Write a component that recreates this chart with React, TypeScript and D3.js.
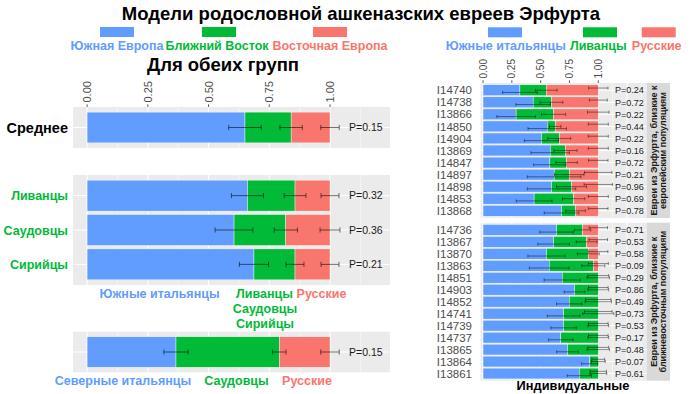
import React from 'react';
import * as d3 from 'd3';

const FONT = '"Liberation Sans", Arial, Helvetica, sans-serif';
const BLUE = '#619CFF';
const GREEN = '#00BA38';
const RED = '#F8766D';
const PANEL_BG = '#EBEBEB';

// left: group means (south share, middle-east share, error half-widths, P)
const avgRows = ['Среднее'];
const levantRows = ['Ливанцы', 'Саудовцы', 'Сирийцы'];
const northRows = [''];
const leftSouth = [0.65, 0.66, 0.605, 0.687, 0.366];
const leftMiddle = [0.19, 0.196, 0.213, 0.169, 0.425];
const leftErrSouth = [0.067, 0.066, 0.078, 0.06, 0.05];
const leftErrMiddle = [0.046, 0.045, 0.048, 0.037, 0.028];
const leftErrEast = [0.038, 0.037, 0.041, 0.037, 0.038];
const leftP = ['0.15', '0.32', '0.36', '0.21', '0.15'];

// right: individuals
const rightIds = [
  'I14740', 'I14738', 'I13866', 'I14850', 'I14904', 'I13869', 'I14847', 'I14897', 'I14898', 'I14853', 'I13868',
  'I14736', 'I13867', 'I13870', 'I13863', 'I14851', 'I14903', 'I14852', 'I14741', 'I14739', 'I14737', 'I13865', 'I13864', 'I13861',
];
const rightSouth = [
  0.32, 0.435, 0.287, 0.557, 0.507, 0.583, 0.58, 0.617, 0.594, 0.443, 0.681,
  0.638, 0.612, 0.551, 0.574, 0.687, 0.794, 0.748, 0.699, 0.699, 0.675, 0.733, 0.926, 0.835,
];
const rightMiddle = [
  0.228, 0.159, 0.325, 0.069, 0.154, 0.133, 0.145, 0.131, 0.174, 0.343, 0.122,
  0.226, 0.287, 0.362, 0.383, 0.313, 0.206, 0.252, 0.301, 0.301, 0.325, 0.267, 0.074, 0.165,
];
const rightErrSouth = [
  0.15, 0.15, 0.167, 0.167, 0.148, 0.167, 0.14, 0.233, 0.21, 0.155, 0.15,
  0.145, 0.137, 0.162, 0.172, 0.157, 0.09, 0.11, 0.142, 0.11, 0.106, 0.094, 0.07, 0.105,
];
const rightErrMiddle = [
  0.094, 0.098, 0.105, 0.05, 0.1, 0.1, 0.093, 0.128, 0.13, 0.097, 0.085,
  0.07, 0.09, 0.095, 0.1, 0.097, 0.09, 0.115, 0.135, 0.09, 0.09, 0.097, 0.06, 0.073,
];
const rightErrEast = [
  0.084, 0.078, 0.093, 0.087, 0.087, 0.087, 0.084, 0.119, 0.123, 0.087, 0.084,
  0.08, 0.08, 0.083, 0.087, 0.09, 0.085, 0.11, 0.12, 0.085, 0.085, 0.09, 0.055, 0.07,
];
const rightP = [
  '0.24', '0.72', '0.22', '0.44', '0.22', '0.16', '0.72', '0.21', '0.96', '0.69', '0.78',
  '0.71', '0.53', '0.58', '0.09', '0.29', '0.86', '0.49', '0.73', '0.53', '0.17', '0.48', '0.07', '0.61',
];
const facetSizes = [11, 13];
const facetLines = [
  ['Евреи из Эрфурта, близкие к', 'европейским популяциям'],
  ['Евреи из Эрфурта, близкие к', 'ближневосточным популяциям'],
];

const tickValues = [0, 0.25, 0.5, 0.75, 1];
const majorGrid = [0, 0.25, 0.5, 0.75, 1, 1.25];
const minorGrid = [0.125, 0.375, 0.625, 0.875, 1.125, 1.375];

type Row = { label: string; s: number; m: number; es: number; em: number; ee: number; p: string };

const leftRows = (labels: string[], offset: number): Row[] =>
  labels.map((label, i) => ({
    label,
    s: leftSouth[offset + i],
    m: leftMiddle[offset + i],
    es: leftErrSouth[offset + i],
    em: leftErrMiddle[offset + i],
    ee: leftErrEast[offset + i],
    p: leftP[offset + i],
  }));

const rightRows: Row[] = rightIds.map((label, i) => ({
  label,
  s: rightSouth[i],
  m: rightMiddle[i],
  es: rightErrSouth[i],
  em: rightErrMiddle[i],
  ee: rightErrEast[i],
  p: rightP[i],
}));

type PanelProps = {
  rows: Row[];
  x: d3.ScaleLinear<number, number>;
  top: number;
  bottom: number;
  cap: number;
  dodge: number[];
  errW: number;
};

function Panel({ rows, x, top, bottom, cap, dodge, errW }: PanelProps) {
  const n = rows.length;
  const y = d3.scaleLinear().domain([0.4, n + 0.6]).range([top, bottom]);
  const [x0, x1] = x.range();
  const [d0, d1] = x.domain();
  const inside = (v: number) => v >= d0 && v <= d1;
  return (
    <g>
      <rect x={x0} y={top} width={x1 - x0} height={bottom - top} fill={PANEL_BG} />
      {minorGrid.filter(inside).map(v => (
        <line key={'mi' + v} x1={x(v)} x2={x(v)} y1={top} y2={bottom} stroke="#fff" strokeWidth={0.5} />
      ))}
      {majorGrid.filter(inside).map(v => (
        <line key={'ma' + v} x1={x(v)} x2={x(v)} y1={top} y2={bottom} stroke="#fff" strokeWidth={1} />
      ))}
      {rows.map((r, i) => (
        <line key={'h' + i} x1={x0} x2={x1} y1={y(i + 1)} y2={y(i + 1)} stroke="#fff" strokeWidth={1} />
      ))}
      {rows.map((r, i) => {
        const yt = y(i + 1 - 0.45);
        const yb = y(i + 1 + 0.45);
        const segs = [
          [0, r.s, BLUE],
          [r.s, r.s + r.m, GREEN],
          [r.s + r.m, 1, RED],
        ] as [number, number, string][];
        return (
          <g key={'b' + i}>
            {segs.map(([a, b, c], j) =>
              b > a ? (
                <rect key={j} x={x(a)} y={yt} width={x(b) - x(a)} height={yb - yt} fill={c} stroke="#fff" strokeWidth={0.4} />
              ) : null
            )}
          </g>
        );
      })}
      {rows.map((r, i) => {
        const ends = [r.s, r.s + r.m, 1];
        const errs = [r.es, r.em, r.ee];
        return (
          <g key={'e' + i} stroke="rgba(0,0,0,0.55)" strokeWidth={errW}>
            {ends.map((c, j) => {
              const yc = y(i + 1) + dodge[j];
              const xa = x(c - errs[j]);
              const xb = x(c + errs[j]);
              return (
                <g key={j}>
                  <line x1={xa} x2={xb} y1={yc} y2={yc} />
                  <line x1={xa} x2={xa} y1={yc - cap} y2={yc + cap} />
                  <line x1={xb} x2={xb} y1={yc - cap} y2={yc + cap} />
                </g>
              );
            })}
          </g>
        );
      })}
    </g>
  );
}

function rowCenter(n: number, top: number, bottom: number, i: number) {
  return d3.scaleLinear().domain([0.4, n + 0.6]).range([top, bottom])(i + 1);
}

function TopTicks({ x, top, size }: { x: d3.ScaleLinear<number, number>; top: number; size: number }) {
  return (
    <g>
      {tickValues.map(v => (
        <g key={v}>
          <line x1={x(v)} x2={x(v)} y1={top} y2={top - 2.7} stroke="#333" strokeWidth={0.8} />
          <text
            transform={`translate(${x(v)},${top - 4.5}) rotate(-90)`}
            dy="0.36em"
            fontSize={size}
            fill="#4D4D4D"
          >
            {d3.format('.2f')(v)}
          </text>
        </g>
      ))}
    </g>
  );
}

export default function App() {
  const xL = d3.scaleLinear().domain([-0.058, 1.247]).range([73, 390]);
  const xR = d3.scaleLinear().domain([-0.022, 1.42]).range([480.5, 646.7]);

  const leftPanels = [
    { rows: leftRows(avgRows, 0), top: 107, bottom: 148 },
    { rows: leftRows(levantRows, 1), top: 175, bottom: 285 },
    { rows: leftRows(northRows, 4), top: 331.7, bottom: 372.3 },
  ];
  const facets = [
    { rows: rightRows.slice(0, facetSizes[0]), top: 83, bottom: 218 },
    { rows: rightRows.slice(facetSizes[0]), top: 222.7, bottom: 380.7 },
  ];

  return (
    <svg
      width={700}
      height={394}
      style={{ position: 'absolute', left: 0, top: 0, background: '#fff', display: 'block' }}
      fontFamily={FONT}
    >
      <defs>
        {facets.map((f, k) => (
          <clipPath id={'strip' + k} key={k}>
            <rect x={646.7} y={f.top} width={23.3} height={f.bottom - f.top} />
          </clipPath>
        ))}
      </defs>

      <text x={361} y={20} textAnchor="middle" fontSize={18.5} fontWeight="bold" fill="#000">
        Модели родословной ашкеназских евреев Эрфурта
      </text>

      {/* left legend */}
      <rect x={100} y={27} width={34} height={10} fill={BLUE} />
      <rect x={202} y={27} width={34} height={10} fill={GREEN} />
      <rect x={313} y={27} width={34} height={10} fill={RED} />
      <g fontSize={12.5} fontWeight="bold" textAnchor="middle">
        <text x={117} y={49.5} fill={BLUE}>Южная Европа</text>
        <text x={217} y={49.5} fill={GREEN}>Ближний Восток</text>
        <text x={330} y={49.5} fill={RED}>Восточная Европа</text>
      </g>

      <text x={223} y={71} textAnchor="middle" fontSize={18.5} fontWeight="bold" fill="#000">
        Для обеих групп
      </text>

      <TopTicks x={xL} top={107} size={11} />

      {leftPanels.map((p, k) => (
        <g key={k}>
          <Panel rows={p.rows} x={xL} top={p.top} bottom={p.bottom} cap={2.6} dodge={[0, 0, 0]} errW={1} />
          {p.rows.map((r, i) => {
            const yc = rowCenter(p.rows.length, p.top, p.bottom, i);
            return (
              <g key={i}>
                <text x={349} y={yc} dy="0.36em" fontSize={10.5} fill="#1A1A1A">
                  {'P=' + r.p}
                </text>
                <text
                  x={68}
                  y={yc}
                  dy="0.36em"
                  textAnchor="end"
                  fontWeight="bold"
                  fontSize={k === 0 ? 14.5 : 12.5}
                  fill={k === 0 ? '#000' : GREEN}
                >
                  {r.label}
                </text>
              </g>
            );
          })}
        </g>
      ))}

      {/* reference populations under the panels */}
      <g fontSize={12.5} fontWeight="bold" textAnchor="middle">
        <text x={159.5} y={298} fill={BLUE}>Южные итальянцы</text>
        <text x={264.5} y={298} fill={GREEN}>Ливанцы</text>
        <text x={321.5} y={298} fill={RED}>Русские</text>
        <text x={265} y={313} fill={GREEN}>Саудовцы</text>
        <text x={265} y={328} fill={GREEN}>Сирийцы</text>
        <text x={123} y={384.5} fill={BLUE}>Северные итальянцы</text>
        <text x={236.5} y={384.5} fill={GREEN}>Саудовцы</text>
        <text x={307} y={384.5} fill={RED}>Русские</text>
      </g>

      {/* right legend */}
      <rect x={488} y={27.3} width={34} height={10} fill={BLUE} />
      <rect x={583} y={27.3} width={34} height={10} fill={GREEN} />
      <rect x={641.7} y={27.3} width={34} height={10} fill={RED} />
      <g fontSize={12.5} fontWeight="bold" textAnchor="middle">
        <text x={505.8} y={49.5} fill={BLUE}>Южные итальянцы</text>
        <text x={598.3} y={49.5} fill={GREEN}>Ливанцы</text>
        <text x={656.7} y={49.5} fill={RED}>Русские</text>
      </g>

      <TopTicks x={xR} top={83} size={10} />

      {facets.map((f, k) => {
        const mid = (f.top + f.bottom) / 2;
        return (
          <g key={k}>
            <Panel rows={f.rows} x={xR} top={f.top} bottom={f.bottom} cap={1.6} dodge={[2.2, 0, -2.2]} errW={0.8} />
            {f.rows.map((r, i) => {
              const yc = rowCenter(f.rows.length, f.top, f.bottom, i);
              return (
                <g key={i}>
                  <text x={472} y={yc} dy="0.36em" textAnchor="end" fontSize={11.5} fill="#4D4D4D">
                    {r.label}
                  </text>
                  <text x={615} y={yc} dy="0.36em" fontSize={9} fill="#1A1A1A">
                    {'P=' + r.p}
                  </text>
                </g>
              );
            })}
            <rect x={646.7} y={f.top} width={23.3} height={f.bottom - f.top} fill="#D9D9D9" />
            <g clipPath={`url(#strip${k})`} fontSize={9} fontWeight="bold" fill="#1A1A1A" textAnchor="middle">
              <text transform={`translate(656.5,${mid}) rotate(-90)`}>{facetLines[k][0]}</text>
              <text transform={`translate(665.5,${mid}) rotate(-90)`}>{facetLines[k][1]}</text>
            </g>
          </g>
        );
      })}

      <text x={573} y={390} textAnchor="middle" fontSize={12.8} fontWeight="bold" fill="#000">
        Индивидуальные
      </text>
    </svg>
  );
}
